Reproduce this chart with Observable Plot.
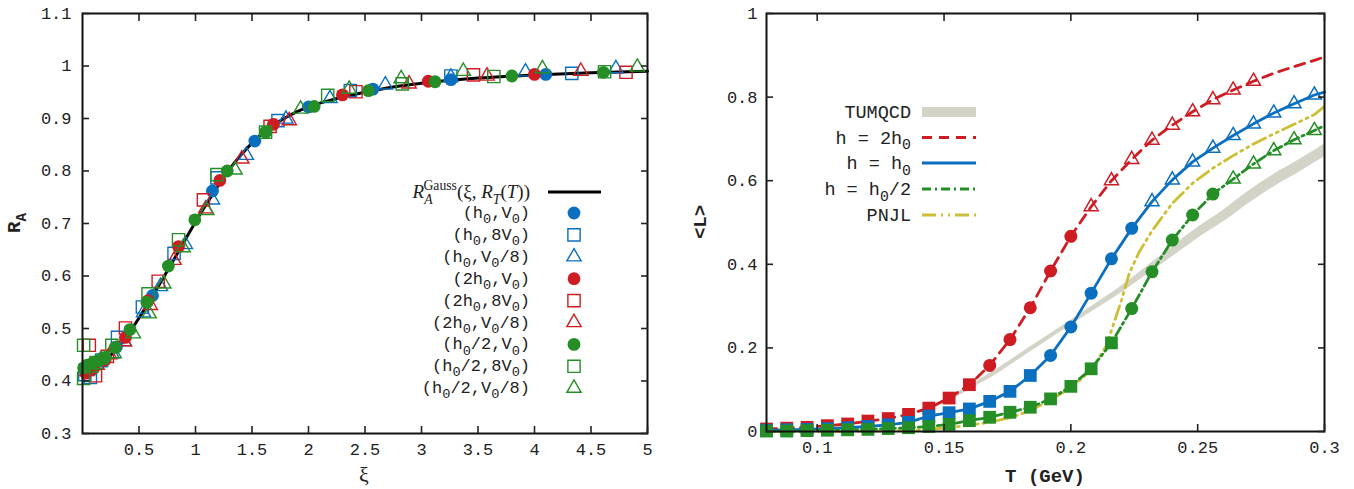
<!DOCTYPE html>
<html><head><meta charset="utf-8">
<script src="https://cdn.jsdelivr.net/npm/d3@7"></script>
<script src="https://cdn.jsdelivr.net/npm/@observablehq/plot@0.6"></script>
<style>
body{margin:0;background:#fff;}
#wrap{position:relative;width:1354px;height:489px;overflow:hidden;background:#fff;}
#left{position:absolute;left:0;top:0;}
#right{position:absolute;left:680px;top:0;}
text{white-space:pre;}
</style></head><body><div id="wrap"><div id="left"></div><div id="right"></div></div>
<script>
// ---------------- LEFT PANEL DATA ----------------
const xiTicks = [0.5,1,1.5,2,2.5,3,3.5,4,4.5,5];
const rTicks = [0.3,0.4,0.5,0.6,0.7,0.8,0.9,1,1.1];

const gaussXi = [0,0.1,0.2,0.3,0.4,0.5,0.6,0.7,0.8,0.9,1.0,1.1,1.2,1.3,1.4,1.5,1.6,1.7,1.8,1.9,2.0,2.25,2.5,2.75,3.0,3.5,4.0,4.5,5.0];
const gaussR  = [0.418,0.427,0.440,0.460,0.488,0.520,0.555,0.591,0.628,0.666,0.703,0.738,0.772,0.803,0.830,0.853,0.873,0.889,0.902,0.913,0.922,0.938,0.950,0.960,0.967,0.977,0.983,0.987,0.990];

const h0V0_xi   = [0.03,0.08,0.16,0.30,0.62,1.15,1.525,2.00,2.57,3.26,4.10];
const h0V0_R    = [0.425,0.430,0.440,0.465,0.563,0.762,0.857,0.922,0.956,0.974,0.984];
const h08V0_xi  = [0.02,0.07,0.17,0.31,0.53,0.81,1.19,1.73,2.37,3.26,4.33];
const h08V0_R   = [0.412,0.407,0.440,0.483,0.541,0.643,0.787,0.896,0.953,0.981,0.986];
const h0V08_xi  = [0.05,0.15,0.26,0.37,0.54,0.69,0.91,1.15,1.45,1.80,2.19,2.68,3.26,3.92,4.72];
const h0V08_R   = [0.420,0.435,0.452,0.475,0.530,0.580,0.660,0.745,0.830,0.899,0.938,0.964,0.979,0.989,0.995];

const h2V0_xi   = [0.03,0.10,0.20,0.38,0.58,0.85,1.215,1.69,2.30,3.06,4.00];
const h2V0_R    = [0.415,0.425,0.440,0.483,0.553,0.656,0.782,0.889,0.945,0.971,0.984];
const h28V0_xi  = [0.06,0.115,0.22,0.38,0.67,1.07,1.66,2.42,3.46,4.81];
const h28V0_R   = [0.468,0.410,0.447,0.501,0.590,0.745,0.885,0.951,0.983,0.988];
const h2V08_xi  = [0.04,0.13,0.24,0.37,0.60,0.81,1.09,1.41,1.83,2.89,3.58,4.41];
const h2V08_R   = [0.418,0.430,0.450,0.475,0.544,0.630,0.728,0.823,0.896,0.966,0.981,0.990];

const hhV0_xi   = [0.01,0.04,0.09,0.14,0.20,0.29,0.42,0.57,0.76,0.994,1.28,1.62,2.05,2.53,3.12,3.80,4.61];
const hhV0_R    = [0.425,0.430,0.434,0.439,0.445,0.464,0.498,0.550,0.619,0.707,0.800,0.874,0.923,0.953,0.970,0.981,0.988];
const hh8V0_xi  = [0.01,0.01,0.12,0.26,0.58,0.85,1.19,1.62,2.17,2.83,3.64,4.62];
const hh8V0_R   = [0.468,0.405,0.435,0.468,0.566,0.669,0.793,0.874,0.944,0.966,0.980,0.989];
const hhV08_xi  = [0.07,0.16,0.28,0.45,0.59,0.72,0.89,1.10,1.35,1.93,2.36,2.82,3.37,4.07,4.91];
const hhV08_R   = [0.425,0.440,0.452,0.490,0.528,0.585,0.654,0.725,0.802,0.918,0.956,0.976,0.990,0.995,0.998];

const leftLabels = ["(h_0,V_0)","(h_0,8V_0)","(h_0,V_0/8)","(2h_0,V_0)","(2h_0,8V_0)","(2h_0,V_0/8)","(h_0/2,V_0)","(h_0/2,8V_0)","(h_0/2,V_0/8)"];

// ---------------- RIGHT PANEL DATA ----------------
const tTicks = [0.1,0.15,0.2,0.25,0.3];
const lTicks = [0,0.2,0.4,0.6,0.8,1];
const tempT = [0.080,0.088,0.096,0.104,0.112,0.120,0.128,0.136,0.144,0.152,0.160,0.168,0.176,0.184,0.192,0.200,0.208,0.216,0.224,0.232,0.240,0.248,0.256,0.264,0.272,0.280,0.288,0.296];
const redL   = [0.006,0.008,0.010,0.014,0.018,0.025,0.031,0.041,0.056,0.080,0.112,0.158,0.220,0.296,0.384,0.467,0.538,0.600,0.651,0.697,0.733,0.765,0.794,0.817,0.838,0.857,0.873,0.888];
const blueL  = [0.003,0.004,0.005,0.007,0.009,0.012,0.016,0.022,0.037,0.045,0.054,0.072,0.096,0.134,0.182,0.250,0.331,0.413,0.486,0.550,0.602,0.645,0.678,0.708,0.736,0.762,0.784,0.805];
const greenL = [0.001,0.001,0.002,0.003,0.004,0.005,0.007,0.009,0.012,0.017,0.026,0.034,0.046,0.058,0.078,0.108,0.150,0.212,0.294,0.382,0.458,0.518,0.568,0.604,0.640,0.672,0.698,0.720];
// marker kind per temperature: S=square, C=circle, T=triangle, -=none
const redSym   = "SSSSSSSSSSSCCCCCTTTTTTTTT---";
const blueSym  = "SSSSSSSSSSSSSSCCCCCTTTTTTTTT";
const greenSym = "SSSSSSSSSSSSSSSSSSCCCCCTTTTT";
const lineEndT = 0.3;
const redEnd = 0.896, blueEnd = 0.812, greenEnd = 0.732;

const pnjlT = [0.08,0.10,0.12,0.13,0.14,0.15,0.16,0.168,0.176,0.184,0.192,0.2,0.205,0.21,0.214,0.217,0.22,0.223,0.227,0.232,0.24,0.248,0.256,0.264,0.272,0.28,0.288,0.296,0.3];
const pnjlL = [0,0,0.001,0.002,0.004,0.008,0.015,0.022,0.033,0.05,0.075,0.105,0.13,0.165,0.205,0.26,0.315,0.378,0.43,0.48,0.546,0.594,0.63,0.66,0.688,0.712,0.735,0.758,0.778];

const tumT  = [0.14,0.15,0.16,0.17,0.18,0.19,0.2,0.21,0.22,0.23,0.24,0.25,0.26,0.27,0.28,0.29,0.3];
const tumLo = [0.043,0.066,0.100,0.134,0.174,0.214,0.254,0.293,0.332,0.375,0.418,0.462,0.501,0.545,0.585,0.620,0.657];
const tumHi = [0.047,0.074,0.110,0.146,0.186,0.226,0.266,0.307,0.348,0.395,0.442,0.488,0.529,0.575,0.615,0.650,0.687];

const rightLabels = ["TUMQCD","h = 2h_0","h = h_0","h = h_0/2","PNJL"];

// ---------------- STYLE ----------------
const MONO = "'Liberation Mono','DejaVu Sans Mono',monospace";
const SERIF = "'Liberation Serif','DejaVu Serif',serif";
const BLUE = "#0b6fc0", RED = "#cf1b22", GREEN = "#258e26", YEL = "#cdbf35", GRAY = "#d3d3c7";
const TXT = "#222";
const fmt = d3.format("~g");
const symName = {S:"square", C:"circle", T:"triangle"};
const symR = {circle:6.4, square:6.9, triangle:5.3};

function rows(xs, ys) { return xs.map((x,i)=>({x, y:ys[i]})); }

function parseSub(s) {
  const parts = [];
  const re = /_(\w)/g; let last = 0, m;
  while ((m = re.exec(s))) {
    if (m.index > last) parts.push([s.slice(last, m.index), null]);
    parts.push([m[1], "sub"]);
    last = m.index + m[0].length;
  }
  if (last < s.length) parts.push([s.slice(last), null]);
  return parts;
}
function rich(svg, {x, y, parts, anchor="end", size=17, family=MONO, weight="normal", rotate=null, fill=TXT, subScale=0.8}) {
  const t = svg.append("text").attr("x", x).attr("y", y).attr("text-anchor", anchor)
    .attr("font-family", family).attr("font-size", size).attr("font-weight", weight).attr("fill", fill)
    .attr("xml:space", "preserve");
  if (rotate != null) t.attr("transform", `rotate(${rotate},${x},${y})`);
  let shift = 0;
  for (const [txt, kind, fstyle, dx] of parts) {
    const ts = t.append("tspan").text(txt);
    const target = kind === "sub" ? size*0.3 : kind === "sup" ? -size*0.42 : 0;
    ts.attr("dy", target - shift); shift = target;
    if (kind) ts.attr("font-size", size*subScale);
    if (fstyle) ts.attr("font-style", fstyle);
    if (dx) ts.attr("dx", dx);
  }
  return t;
}

// ---------------- LEFT PLOT ----------------
const leftSeries = [
  [h0V0_xi, h0V0_R, BLUE, "circle"], [h08V0_xi, h08V0_R, BLUE, "square"], [h0V08_xi, h0V08_R, BLUE, "triangle"],
  [h2V0_xi, h2V0_R, RED, "circle"], [h28V0_xi, h28V0_R, RED, "square"], [h2V08_xi, h2V08_R, RED, "triangle"],
  [hhV0_xi, hhV0_R, GREEN, "circle"], [hh8V0_xi, hh8V0_R, GREEN, "square"], [hhV08_xi, hhV08_R, GREEN, "triangle"]
];
function dotMark(data, color, sym, filled) {
  return Plot.dot(data, {x:"x", y:"y", symbol: sym, r: symR[sym],
    fill: filled ? color : "none", stroke: filled ? "none" : color, strokeWidth: filled ? 0 : 1.4});
}
const leftMarks = [
  Plot.line(rows(gaussXi, gaussR), {x:"x", y:"y", stroke:"#000", strokeWidth:3, curve:"monotone-x"}),
  ...leftSeries.map(([xs, ys, c, s]) => dotMark(rows(xs, ys), c, s, s === "circle")),
  Plot.frame({stroke:"#111", strokeWidth:2}),
  Plot.axisX({anchor:"bottom", ticks: xiTicks, tickSize:-7, tickPadding:16, tickFormat: fmt, strokeWidth:1.6, label:null}),
  Plot.axisX({anchor:"top", ticks: xiTicks, tickSize:-7, tickFormat: () => "", strokeWidth:1.6, label:null}),
  Plot.axisY({anchor:"left", ticks: rTicks, tickSize:-7, tickPadding:18, tickFormat: fmt, strokeWidth:1.6, label:null}),
  Plot.axisY({anchor:"right", ticks: rTicks, tickSize:-7, tickFormat: () => "", strokeWidth:1.6, label:null})
];
const leftPlot = Plot.plot({
  width: 680, height: 489, marginLeft: 82, marginRight: 33, marginTop: 13, marginBottom: 56,
  x: {domain: [0, 5]}, y: {domain: [0.3, 1.1]},
  style: {fontFamily: MONO, fontSize: "17px", color: TXT, background: "transparent", overflow: "visible"},
  marks: leftMarks
});
document.getElementById("left").appendChild(leftPlot);
{
  const svg = d3.select(leftPlot);
  // axis titles
  rich(svg, {x: 20, y: 223, parts: [["R", null], ["A", "sub"]], anchor: "middle", size: 19, weight: "bold", rotate: -90, subScale: 0.75});
  rich(svg, {x: 364, y: 482, parts: [["ξ", null]], anchor: "middle", size: 22, family: SERIF});
  // legend: Gauss curve
  rich(svg, {x: 530, y: 198, anchor: "end", size: 19, family: SERIF, subScale: 0.72, parts: [
    ["R", null, "italic"], ["A", "sub", "italic"], ["Gauss", "sup", null, -9], ["(ξ, ", null], ["R", null, "italic"],
    ["T", "sub", "italic"], ["(", null], ["T", null, "italic"], ["))", null]
  ]});
  svg.append("line").attr("x1", 548).attr("x2", 601).attr("y1", 192).attr("y2", 192).attr("stroke", "#000").attr("stroke-width", 3);
  leftSeries.forEach(([xs, ys, c, s], i) => {
    const yy = 213 + i * 21.9;
    rich(svg, {x: 530, y: yy + 5, parts: parseSub(leftLabels[i]), anchor: "end", size: 17});
    const symbol = s === "circle" ? d3.symbolCircle : s === "square" ? d3.symbolSquare : d3.symbolTriangle;
    const r = symR[s];
    svg.append("path").attr("d", d3.symbol(symbol, Math.PI * r * r)())
      .attr("transform", `translate(574,${yy})`)
      .attr("fill", s === "circle" ? c : "none").attr("stroke", s === "circle" ? "none" : c).attr("stroke-width", 1.4);
  });
}

// ---------------- RIGHT PLOT ----------------
function seriesRows(vals, syms, endVal) {
  const line = tempT.map((t, i) => ({x: t, y: vals[i]})).concat([{x: lineEndT, y: endVal}]);
  const pts = tempT.map((t, i) => ({x: t, y: vals[i], s: symName[syms[i]]})).filter(d => d.s);
  return {line, pts};
}
const rightSeries = [
  [seriesRows(redL, redSym, redEnd), RED, "10,7"],
  [seriesRows(blueL, blueSym, blueEnd), BLUE, null],
  [seriesRows(greenL, greenSym, greenEnd), GREEN, "9,4,2,4"]
];
const rSymR = {circle:6.5, square:7.2, triangle:5.2};
const rightMarks = [
  Plot.areaY(tumT.map((t, i) => ({x: t, lo: tumLo[i], hi: tumHi[i]})), {x:"x", y1:"lo", y2:"hi", fill: GRAY, curve:"monotone-x"}),
  Plot.line(rows(pnjlT, pnjlL), {x:"x", y:"y", stroke: YEL, strokeWidth: 2.8, strokeDasharray: "14,5,2,5,2,5"})
];
for (const [ser, c, dash] of rightSeries) {
  rightMarks.push(Plot.line(ser.line, {x:"x", y:"y", stroke: c, strokeWidth: 2.8, strokeDasharray: dash || undefined}));
  for (const s of ["square", "circle", "triangle"]) {
    const filled = s !== "triangle";
    rightMarks.push(Plot.dot(ser.pts.filter(d => d.s === s), {x:"x", y:"y", symbol: s, r: rSymR[s],
      fill: filled ? c : "none", stroke: filled ? "none" : c, strokeWidth: filled ? 0 : 1.5}));
  }
}
rightMarks.push(
  Plot.frame({stroke:"#111", strokeWidth:2}),
  Plot.axisX({anchor:"bottom", ticks: tTicks, tickSize:-7, tickPadding:16, tickFormat: fmt, strokeWidth:1.6, label:null}),
  Plot.axisX({anchor:"top", ticks: tTicks, tickSize:-7, tickFormat: () => "", strokeWidth:1.6, label:null}),
  Plot.axisY({anchor:"left", ticks: lTicks, tickSize:-7, tickPadding:16, tickFormat: fmt, strokeWidth:1.6, label:null}),
  Plot.axisY({anchor:"right", ticks: lTicks, tickSize:-7, tickFormat: () => "", strokeWidth:1.6, label:null})
);
const rightPlot = Plot.plot({
  width: 674, height: 489, marginLeft: 86, marginRight: 30, marginTop: 13, marginBottom: 58,
  x: {domain: [0.08, 0.3]}, y: {domain: [0, 1]},
  style: {fontFamily: MONO, fontSize: "17px", color: TXT, background: "transparent", overflow: "visible"},
  marks: rightMarks
});
document.getElementById("right").appendChild(rightPlot);
{
  const svg = d3.select(rightPlot);
  const ox = 680;
  rich(svg, {x: 706 - ox, y: 222, parts: [["<L>", null]], anchor: "middle", size: 19, weight: "bold", rotate: -90});
  rich(svg, {x: 1045 - ox, y: 482, parts: [["T (GeV)", null]], anchor: "middle", size: 19, weight: "bold"});
  const legY = [112, 137.5, 163, 189, 215];
  const styles = [[GRAY, null, 10], [RED, "10,7", 2.8], [BLUE, null, 2.8], [GREEN, "9,4,2,4", 2.8], [YEL, "14,5,2,5,2,5", 2.8]];
  rightLabels.forEach((lab, i) => {
    rich(svg, {x: 911 - ox, y: legY[i] + 6, parts: parseSub(lab), anchor: "end", size: 18.5});
    const [c, dash, w] = styles[i];
    const ln = svg.append("line").attr("x1", 922 - ox).attr("x2", 976 - ox).attr("y1", legY[i]).attr("y2", legY[i])
      .attr("stroke", c).attr("stroke-width", w);
    if (dash) ln.attr("stroke-dasharray", dash);
  });
}
</script>
</body></html>
